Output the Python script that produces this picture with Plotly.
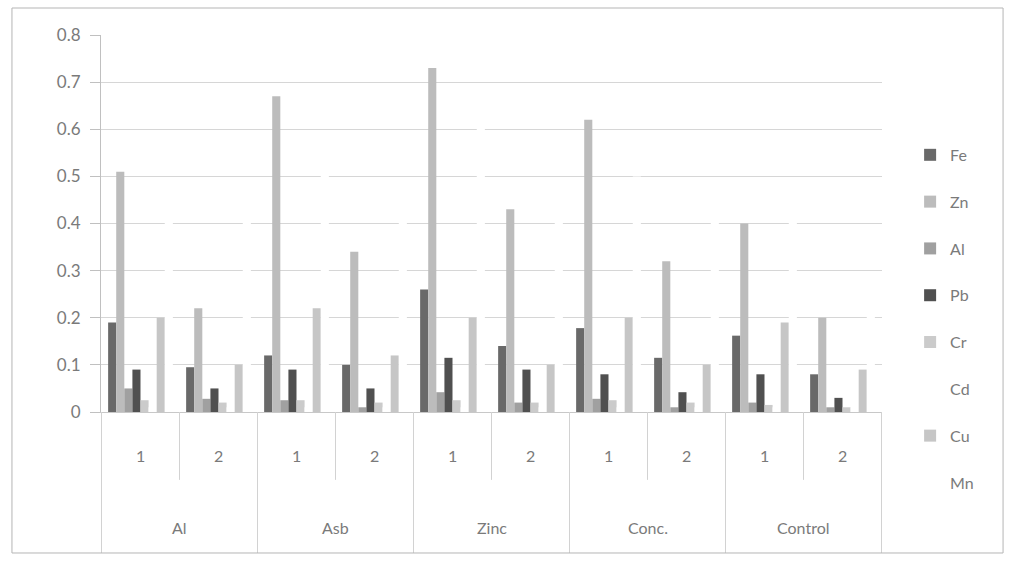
import plotly.graph_objects as go

groups = ["Al", "Asb", "Zinc", "Conc.", "Control"]
reps = ["1", "2"]
series_names = ["Fe", "Zn", "Al", "Pb", "Cr", "Cd", "Cu", "Mn"]

# values in order: Al-1, Al-2, Asb-1, Asb-2, Zinc-1, Zinc-2, Conc-1, Conc-2, Control-1, Control-2
Fe = [0.19, 0.095, 0.12, 0.10, 0.26, 0.14, 0.178, 0.115, 0.162, 0.08]
Zn = [0.51, 0.22, 0.67, 0.34, 0.73, 0.43, 0.62, 0.32, 0.40, 0.20]
Al = [0.05, 0.028, 0.025, 0.01, 0.042, 0.02, 0.028, 0.01, 0.02, 0.01]
Pb = [0.09, 0.05, 0.09, 0.05, 0.115, 0.09, 0.08, 0.042, 0.08, 0.03]
Cr = [0.025, 0.02, 0.025, 0.02, 0.025, 0.02, 0.025, 0.02, 0.015, 0.01]
Cd = [0.01, 0.01, 0.01, 0.01, 0.01, 0.01, 0.01, 0.01, 0.01, 0.01]
Cu = [0.20, 0.10, 0.22, 0.12, 0.20, 0.10, 0.20, 0.10, 0.19, 0.09]
Mn = [0.45, 0.45, 0.55, 0.45, 0.65, 0.45, 0.50, 0.45, 0.45, 0.28]

values = [Fe, Zn, Al, Pb, Cr, Cd, Cu, Mn]
colors = ["#696969", "#bcbcbc", "#a0a0a0", "#505050", "#cbcbcb", "#ffffff", "#c6c6c6", "#ffffff"]

cats = [f"{g} {r}" for g in groups for r in reps]
sub_labels = [r for g in groups for r in reps]

FONT = "Lato"
TXT = "#7a7a7a"

fig = go.Figure()
for name, vals, col in zip(series_names, values, colors):
    fig.add_bar(x=cats, y=vals, name=name, marker_color=col, marker_line_width=0,
                legendgroup=name)

annotations = []
for i, lab in enumerate(sub_labels):
    annotations.append(dict(x=i, y=0, xref="x", yref="paper", text=lab, showarrow=False,
                            yanchor="middle", yshift=-43,
                            font=dict(family=FONT, size=16, color=TXT)))
for j, g in enumerate(groups):
    annotations.append(dict(x=2 * j + 0.5, y=0, xref="x", yref="paper", text=g, showarrow=False,
                            yanchor="middle", yshift=-115,
                            font=dict(family=FONT, size=16, color=TXT)))

shapes = []
n = len(cats)
for i in range(n + 1):
    long = (i % 2 == 0)
    shapes.append(dict(type="line", xref="x", yref="paper", x0=i - 0.5, x1=i - 0.5,
                       y0=0, y1=-0.374 if long else -0.18,
                       line=dict(color="#d2d2d2", width=1)))
# outer chart border
shapes.append(dict(type="rect", xref="paper", yref="paper", x0=-0.114, x1=1.155,
                   y0=-0.374, y1=1.0716, line=dict(color="#b5b5b5", width=1),
                   fillcolor="rgba(0,0,0,0)"))

fig.update_layout(
    width=1013, height=566,
    margin=dict(l=101, r=131, t=35, b=154),
    paper_bgcolor="white", plot_bgcolor="white",
    barmode="group", bargap=0.17, bargroupgap=0,
    font=dict(family=FONT, size=15, color=TXT),
    showlegend=True,
    legend=dict(x=1.036, xanchor="left", y=0.727, yanchor="top",
                font=dict(family=FONT, size=16, color=TXT),
                tracegroupgap=23, itemwidth=30, bgcolor="rgba(0,0,0,0)"),
    annotations=annotations,
    shapes=shapes,
)
fig.update_xaxes(type="category", categoryorder="array", categoryarray=cats,
                 showticklabels=False, showgrid=False, showline=True,
                 linecolor="#c8c8c8", linewidth=1, ticks="", zeroline=False)
fig.update_yaxes(range=[0, 0.8], dtick=0.1, tick0=0, showgrid=True, gridcolor="#d6d6d6",
                 gridwidth=1, showline=True, linecolor="#c0c0c0", linewidth=1,
                 ticks="outside", ticklen=10, tickcolor="#c0c0c0", zeroline=False,
                 ticklabelstandoff=6,
                 tickfont=dict(family=FONT, size=17, color=TXT))

fig.write_html("out.html")
